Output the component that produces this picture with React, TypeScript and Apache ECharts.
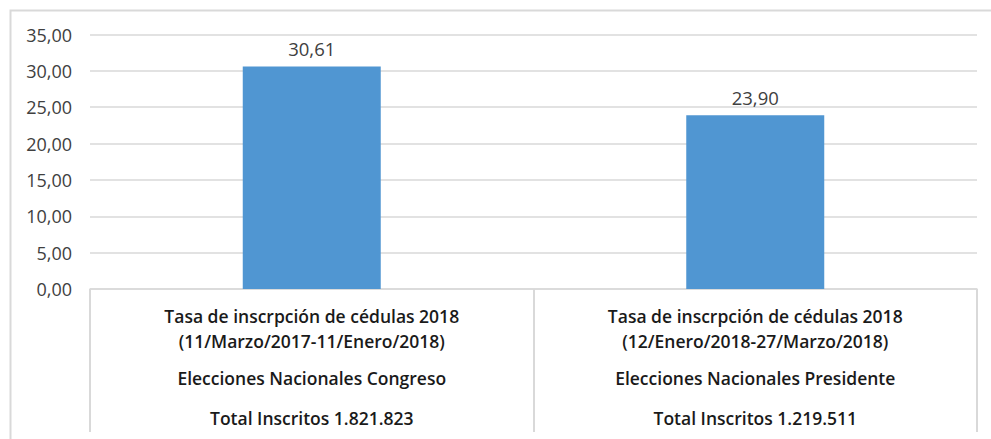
import React, { useEffect, useRef } from "react";
import * as echarts from "echarts";

const categoryLine1 = ["Tasa de inscrpción de cédulas 2018", "Tasa de inscrpción de cédulas 2018"];
const categoryLine2 = ["(11/Marzo/2017-11/Enero/2018)", "(12/Enero/2018-27/Marzo/2018)"];
const categoryLine3 = ["Elecciones Nacionales Congreso", "Elecciones Nacionales Presidente"];
const categoryLine4 = ["Total Inscritos 1.821.823", "Total Inscritos 1.219.511"];
const values = [30.61, 23.9];
const yTicks = [0, 5, 10, 15, 20, 25, 30, 35];

const fmt = (v: number) => v.toFixed(2).replace(".", ",");

export default function App() {
  const ref = useRef<HTMLDivElement>(null);
  useEffect(() => {
    if (!ref.current) return;
    const chart = echarts.init(ref.current, undefined, { renderer: "svg" });
    const font = "Open Sans, sans-serif";
    const categories = categoryLine1.map((_, i) => String(i));
    chart.setOption({
      animation: false,
      backgroundColor: "#ffffff",
      graphic: [
        {
          type: "rect",
          shape: { x: 10.5, y: 10.5, width: 1000, height: 460 },
          style: { fill: "none", stroke: "#D9D9D9", lineWidth: 2 },
          silent: true,
        },
      ],
      grid: { left: 90, right: 14, top: 34.5, bottom: 150, containLabel: false },
      xAxis: {
        type: "category",
        data: categories,
        axisLine: { show: true, lineStyle: { color: "#D9D9D9", width: 1.5 } },
        axisTick: { show: true, alignWithLabel: false, length: 143, lineStyle: { color: "#D9D9D9", width: 2 } },
        axisLabel: {
          margin: 14,
          interval: 0,
          fontFamily: font,
          color: "#1a1a1a",
          formatter: (v: string) => {
            const i = Number(v);
            return `{a|${categoryLine1[i]}}\n{a|${categoryLine2[i]}}\n{b|${categoryLine3[i]}}\n{b|${categoryLine4[i]}}`;
          },
          rich: {
            a: { fontFamily: font, fontSize: 17.5, fontWeight: 600, lineHeight: 25, color: "#1a1a1a" },
            b: { fontFamily: font, fontSize: 17.5, fontWeight: 600, lineHeight: 40, color: "#1a1a1a", padding: [10, 0, 0, 0] },
          },
        },
      },
      yAxis: {
        type: "value",
        min: yTicks[0],
        max: yTicks[yTicks.length - 1],
        interval: 5,
        axisLine: { show: false },
        axisTick: { show: false },
        splitLine: { lineStyle: { color: "#D9D9D9", width: 1.5 } },
        axisLabel: {
          margin: 18,
          fontFamily: font,
          fontSize: 18,
          color: "#404040",
          formatter: (v: number) => fmt(v),
        },
      },
      series: [
        {
          type: "bar",
          data: values,
          barWidth: 138,
          itemStyle: { color: "#5096D2" },
          label: {
            show: true,
            position: "top",
            distance: 8,
            fontFamily: font,
            fontSize: 18.5,
            color: "#404040",
            formatter: (p: any) => fmt(p.value),
          },
        },
      ],
    });
    return () => chart.dispose();
  }, []);
  return (
    <div
      ref={ref}
      style={{ position: "absolute", left: 0, top: 0, width: 991, height: 439 }}
    />
  );
}
